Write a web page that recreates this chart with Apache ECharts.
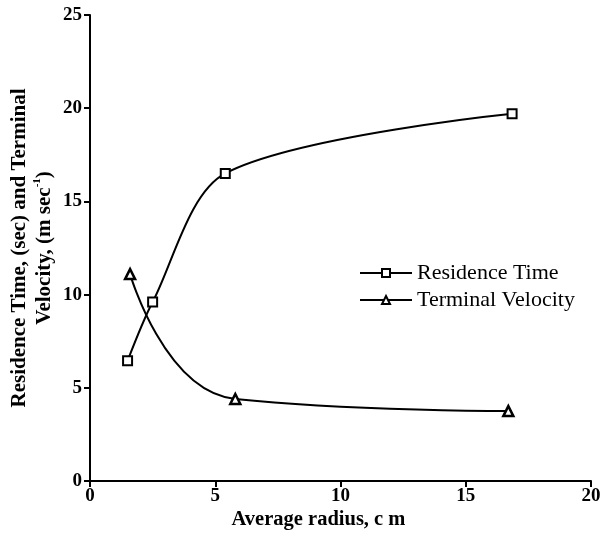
<!DOCTYPE html>
<html><head><meta charset="utf-8">
<script src="https://cdn.jsdelivr.net/npm/echarts@6/dist/echarts.min.js"></script>
<style>html,body{margin:0;padding:0;background:#fff}#c{width:607px;height:548px}</style>
</head><body><div id="c"></div>
<script>
const residenceX = [1.5, 2.5, 5.4, 16.85];
const residenceY = [6.45, 9.6, 16.5, 19.7];
const velocityX = [1.6, 5.8, 16.7];
const velocityY = [11.1, 4.4, 3.75];
const xTicks = [0, 5, 10, 15, 20];
const yTicks = [0, 5, 10, 15, 20, 25];

const font = '"Liberation Serif", "Times New Roman", serif';
const chart = echarts.init(document.getElementById('c'));
chart.setOption({
  animation: false,
  backgroundColor: '#fff',
  textStyle: { fontFamily: font, color: '#000' },
  grid: { left: 90, right: 16, top: 15, bottom: 67, containLabel: false, outerBoundsMode: 'none' },
  legend: {
    left: 354, top: 257, orient: 'vertical', itemGap: 5,
    itemWidth: 52, itemHeight: 10,
    textStyle: { fontFamily: font, fontSize: 22, color: '#000' },
    data: ['Residence Time', 'Terminal Velocity']
  },
  xAxis: {
    type: 'value', min: 0, max: 20, interval: 5,
    name: 'Average radius, c m', nameLocation: 'middle', nameGap: 28, nameMoveOverlap: false,
    nameTextStyle: { fontFamily: font, fontSize: 20.5, fontWeight: 'bold', color: '#000', padding: [0, 44, 0, 0] },
    axisLine: { lineStyle: { color: '#000', width: 2 } },
    axisTick: { length: 6, lineStyle: { color: '#000', width: 2 } },
    axisLabel: { fontFamily: font, fontSize: 19, fontWeight: 'bold', color: '#000', margin: 6,
      formatter: v => xTicks.includes(v) ? String(v) : '' },
    splitLine: { show: false }
  },
  yAxis: {
    type: 'value', min: 0, max: 25, interval: 5,
    name: 'Residence Time, (sec) and Terminal\nVelocity, (m sec{sup|-1})',
    nameLocation: 'middle', nameGap: 33, nameMoveOverlap: false,
    nameTextStyle: { fontFamily: font, fontSize: 21, fontWeight: 'bold', color: '#000', lineHeight: 25,
      rich: { sup: { fontFamily: font, fontSize: 11, fontWeight: 'bold', color: '#000', verticalAlign: 'top', padding: [0,0,8,0] } } },
    axisLine: { lineStyle: { color: '#000', width: 2 } },
    axisTick: { length: 6, lineStyle: { color: '#000', width: 2 } },
    axisLabel: { fontFamily: font, fontSize: 19, fontWeight: 'bold', color: '#000', margin: 8,
      formatter: v => yTicks.includes(v) ? String(v) : '' },
    splitLine: { show: false }
  },
  series: [
    {
      name: 'Residence Time', type: 'line', smooth: 0.3,
      data: residenceX.map((x, i) => [x, residenceY[i]]),
      symbol: 'rect', symbolSize: 9,
      lineStyle: { color: '#000', width: 2 },
      itemStyle: { color: '#fff', borderColor: '#000', borderWidth: 2 }
    },
    {
      name: 'Terminal Velocity', type: 'line', smooth: 0.5,
      data: velocityX.map((x, i) => [x, velocityY[i]]),
      symbol: 'triangle', symbolSize: 10,
      lineStyle: { color: '#000', width: 2 },
      itemStyle: { color: '#fff', borderColor: '#000', borderWidth: 2.5 }
    }
  ]
});
</script></body></html>
